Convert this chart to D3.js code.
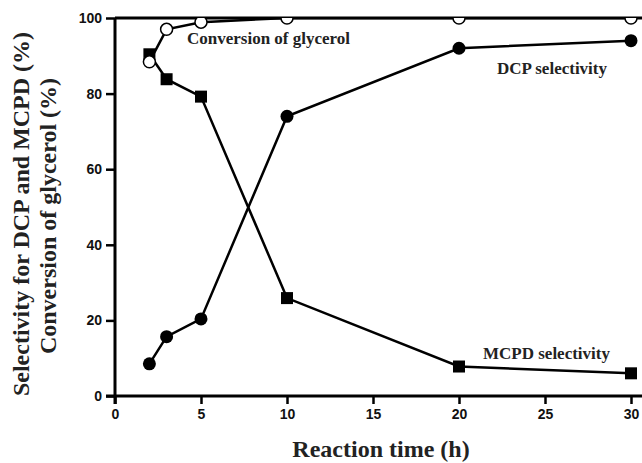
<!DOCTYPE html>
<html>
<head>
<meta charset="utf-8">
<script src="https://cdn.jsdelivr.net/npm/d3@7"></script>
<style>
  body { margin: 0; background: #fff; }
  svg { display: block; }
</style>
</head>
<body>
<div id="chart"></div>
<script>
// values
const times = [2, 3, 5, 10, 20, 30];
const dcpSelectivity = [8.5, 15.7, 20.4, 74, 92, 94];
const mcpdSelectivity = [90.4, 83.8, 79.2, 25.9, 7.8, 6.0];
const glycerolConversion = [88.4, 97, 98.9, 100, 100, 100];
const xTicks = [0, 5, 10, 15, 20, 25, 30];
const yTicks = [0, 20, 40, 60, 80, 100];

const w = 642, h = 463;
const svg = d3.select("#chart").append("svg")
  .attr("width", w)
  .attr("height", h);

const x = d3.scaleLinear().domain([0, 30]).range([115, 631]);
const y = d3.scaleLinear().domain([0, 100]).range([396, 18]);

svg.append("defs").append("clipPath").attr("id", "plot")
  .append("rect").attr("x", 0).attr("y", y(100)).attr("width", w).attr("height", h);

const tickFont = "'Liberation Sans', Arial, sans-serif";
const serif = "'Liberation Serif', 'Times New Roman', serif";

// axes
const xAxis = svg.append("g")
  .attr("transform", "translate(0," + y(0) + ")")
  .call(d3.axisBottom(x).tickValues(xTicks).tickSize(8).tickPadding(5).tickSizeOuter(0));
xAxis.select(".domain").remove();
xAxis.append("line").attr("x1", 106).attr("x2", w).attr("stroke", "#000").attr("stroke-width", 3);

const yAxis = svg.append("g")
  .attr("transform", "translate(" + x(0) + ",0)")
  .call(d3.axisLeft(y).tickValues(yTicks).tickSize(9).tickPadding(4).tickSizeOuter(0));
yAxis.select(".domain").remove();
yAxis.append("line").attr("y1", y(0) + 8).attr("y2", y(100)).attr("stroke", "#000").attr("stroke-width", 3);

svg.append("line")
  .attr("x1", x(0)).attr("x2", w).attr("y1", y(100)).attr("y2", y(100))
  .attr("stroke", "#000").attr("stroke-width", 3);

svg.selectAll(".tick line").attr("stroke", "#000").attr("stroke-width", 2.5);
svg.selectAll(".tick text")
  .attr("font-family", tickFont)
  .attr("font-weight", "bold")
  .attr("font-size", 14)
  .attr("fill", "#111");

// series
const plot = svg.append("g").attr("clip-path", "url(#plot)");
const line = d3.line().x(d => x(d[0])).y(d => y(d[1]));

function series(vals) { return times.map((t, i) => [t, vals[i]]); }

const dcp = series(dcpSelectivity);
const mcpd = series(mcpdSelectivity);
const conv = series(glycerolConversion);

[dcp, mcpd, conv].forEach(s => {
  plot.append("path").datum(s)
    .attr("d", line)
    .attr("fill", "none")
    .attr("stroke", "#000")
    .attr("stroke-width", 2.5);
});

plot.selectAll(".sq").data(mcpd).join("rect")
  .attr("class", "sq")
  .attr("x", d => x(d[0]) - 6)
  .attr("y", d => y(d[1]) - 6)
  .attr("width", 12).attr("height", 12)
  .attr("fill", "#000");

plot.selectAll(".dcp").data(dcp).join("circle")
  .attr("class", "dcp")
  .attr("cx", d => x(d[0]))
  .attr("cy", d => y(d[1]))
  .attr("r", 6.5)
  .attr("fill", "#000");

plot.selectAll(".conv").data(conv).join("circle")
  .attr("class", "conv")
  .attr("cx", d => x(d[0]))
  .attr("cy", d => y(d[1]))
  .attr("r", 6)
  .attr("fill", "#fff")
  .attr("stroke", "#000")
  .attr("stroke-width", 1.5);

// series labels
const labels = [
  { text: "Conversion of glycerol", x: 187, y: 44 },
  { text: "DCP selectivity", x: 497, y: 74 },
  { text: "MCPD selectivity", x: 483, y: 359 }
];
svg.selectAll(".lbl").data(labels).join("text")
  .attr("class", "lbl")
  .attr("x", d => d.x)
  .attr("y", d => d.y)
  .attr("font-family", serif)
  .attr("font-weight", "bold")
  .attr("font-size", 17)
  .attr("fill", "#222")
  .text(d => d.text);

// axis titles
svg.append("text")
  .attr("x", 381).attr("y", 457)
  .attr("text-anchor", "middle")
  .attr("font-family", serif)
  .attr("font-weight", "bold")
  .attr("font-size", 24)
  .attr("fill", "#222")
  .text("Reaction time (h)");

svg.append("text")
  .attr("transform", "translate(29,214) rotate(-90)")
  .attr("text-anchor", "middle")
  .attr("font-family", serif)
  .attr("font-weight", "bold")
  .attr("font-size", 24)
  .attr("fill", "#222")
  .text("Selectivity for DCP and MCPD (%)");

svg.append("text")
  .attr("transform", "translate(56,216) rotate(-90)")
  .attr("text-anchor", "middle")
  .attr("font-family", serif)
  .attr("font-weight", "bold")
  .attr("font-size", 24)
  .attr("fill", "#222")
  .text("Conversion of glycerol (%)");
</script>
</body>
</html>
